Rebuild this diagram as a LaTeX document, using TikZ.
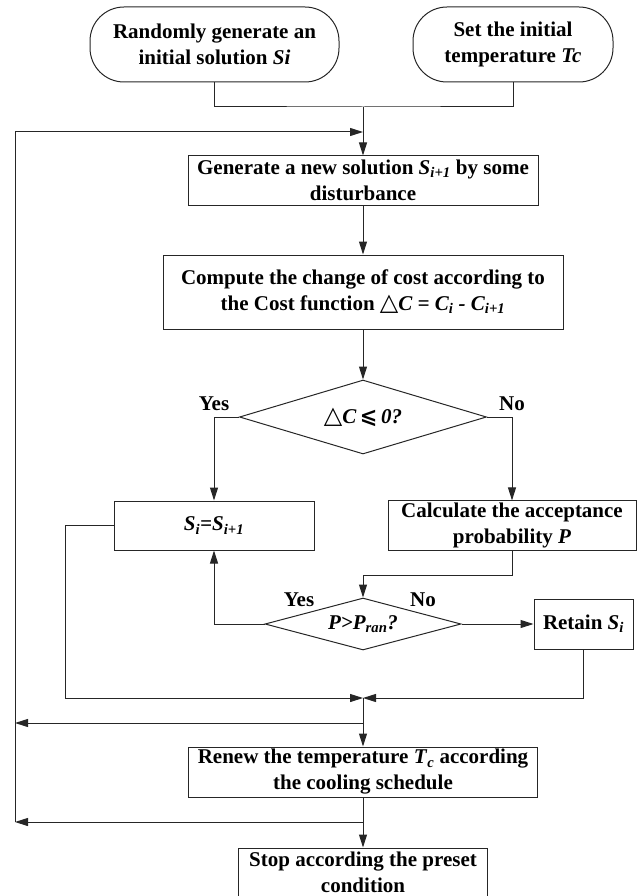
\documentclass[tikz,border=0pt]{standalone}
\usepackage{fontspec}
\setmainfont{Liberation Serif}
\newfontfamily\symfont{DejaVu Sans}
\usepackage{tikz}
\usetikzlibrary{arrows.meta,positioning,shapes.geometric,calc}

\newcommand{\Sv}[1]{\textit{S}\textsubscript{\textit{#1}}}
\newcommand{\tri}{{\symfont\fontsize{24}{20}\selectfont △}}
\newcommand{\leqs}{{\symfont\fontsize{21}{20}\selectfont ⩽}}

\begin{document}
\begin{tikzpicture}[x=1pt, y=1pt, every node/.style={font=\fontsize{21}{26}\selectfont\bfseries}, box/.style={rectangle, draw=black!85, line width=1pt, align=center, inner sep=2pt}, oval/.style={rectangle, rounded corners=34pt, draw=black!85, line width=1pt, align=center, minimum width=249pt, minimum height=75pt}, decision/.style={diamond, draw=black!85, line width=1pt, inner sep=0pt, font=\fontsize{21}{26}\selectfont\bfseries\itshape}, lbl/.style={inner sep=0pt, anchor=base}, line/.style={draw=black!85, line width=1pt}, arrow/.style={line, -{Triangle[length=13pt, width=8pt]}}]
\useasboundingbox (0,0) rectangle (639,-896);
\node[oval] (start1) at (214.5,-44.5) {Randomly generate an\\initial solution \textit{Si}};
\node[oval, minimum width=200pt] (start2) at (513,-44.5) {Set the initial\\temperature \textit{Tc}};
\node[box, minimum width=350pt, minimum height=49pt] (gen) at (363,-180.5) {Generate a new solution \Sv{i+1} by some\\disturbance};
\node[box, minimum width=400pt, minimum height=74pt, below=49pt of gen] (cost) {Compute the change of cost according to\\the Cost function \tri\textit{C = C\textsubscript{i} - C\textsubscript{i+1}}};
\node[decision, minimum width=247pt, minimum height=74pt, aspect=3.34, below=50pt of cost] (dec1) {\tri C\,\leqs\,0?};
\node[box, minimum width=200pt, minimum height=49pt, font=\fontsize{21}{26}\selectfont\bfseries\itshape] (upd) at (214,-525.5) {S\textsubscript{i}=S\textsubscript{i+1}};
\node[box, minimum width=248pt, minimum height=49pt] (prob) at (512,-525.5) {Calculate the acceptance\\probability \textit{P}};
\node[decision, minimum width=196pt, minimum height=52pt, aspect=3.77] (dec2) at (363,-624) {P>P\textsubscript{ran}?};
\node[box, minimum width=99pt, minimum height=50pt] (keep) at (583.5,-624) {Retain \Sv{i}};
\node[box, minimum width=349pt, minimum height=50pt] (renew) at (363,-772) {Renew the temperature \textit{T}\textsubscript{\textit{c}} according\\the cooling schedule};
\node[box, minimum width=249pt, minimum height=48pt, below=50pt of renew] (stop) {Stop according the preset\\condition};
% junction points
\coordinate (join) at (363,-107);
\coordinate (ret) at (363,-132);
\coordinate (c1) at (363,-575);
\coordinate (c2) at (65,-698);
\coordinate (m1) at (363,-698);
\coordinate (b1) at (363,-723);
\coordinate (b2) at (363,-822);
\coordinate (l0) at (15,-132);
\coordinate (l1) at (15,-723);
\coordinate (l2) at (15,-822);
\draw[line] (start1.south) |- (join) -| (start2.south);
\draw[arrow] (join) -- (gen.north);
\draw[arrow] (gen) -- (cost);
\draw[arrow] (cost) -- (dec1);
\draw[arrow] (dec1.west) -| (upd.north);
\draw[arrow] (dec1.east) -| (prob.north);
\node[lbl] at ($(dec1.west -| upd.north)+(0,7)$) {Yes};
\node[lbl] at ($(dec1.east -| prob.north)+(0,7)$) {No};
\draw[arrow] (prob.south) |- (c1) -- (dec2.north);
\draw[arrow] (dec2.west) -| (upd.south);
\draw[arrow] (dec2.east) -- (keep.west);
\node[lbl] at ($(dec2.center)+(-64,18)$) {Yes};
\node[lbl] at ($(dec2.center)+(60,18)$) {No};
\draw[arrow] (upd.west) -| (c2) -- (m1);
\draw[arrow] (keep.south) |- (m1);
\draw[arrow] (m1) -- (renew.north);
\draw[arrow] (b1) -- (l1);
\draw[arrow] (renew.south) -- (stop.north);
\draw[arrow] (b2) -- (l2);
\draw[line] (l2) -- (l0);
\draw[arrow] (l0) -- (ret);
\end{tikzpicture}
\end{document}
